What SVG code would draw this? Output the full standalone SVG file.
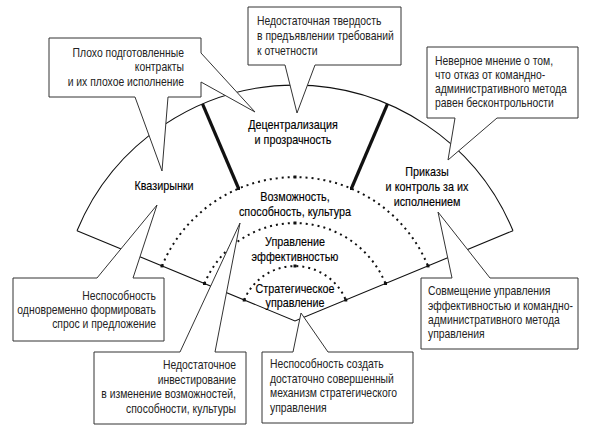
<svg xmlns="http://www.w3.org/2000/svg" width="591" height="433" viewBox="0 0 591 433">
<defs>
<style>
.ln{fill:none;stroke:#111;stroke-width:1.1}
.thick{fill:none;stroke:#111;stroke-width:3.2}
.dot{fill:none;stroke:#111;stroke-width:2;stroke-dasharray:2 4}
.sq{fill:#111}
.bub{fill:#fff;stroke:#333;stroke-width:1}
.t{font-family:'Liberation Sans',Arial,sans-serif;font-size:12px;fill:#222}
.f{font-family:'Liberation Sans',Arial,sans-serif;font-size:13px;fill:#000;text-anchor:middle;stroke:#000;stroke-width:0.15}
.e{text-anchor:end}
</style>
</defs>
<rect width="591" height="433" fill="#fff"/>
<g id="fan">
<path class="ln" d="M77,230.7 A236,236 0 0 1 513,230.7"/>
<path class="ln" d="M77,230.7 L295,321 L513,230.7"/>
<path class="dot" d="M162,265.9 A144,144 0 0 1 428,265.9"/>
<path class="dot" d="M204.5,283.5 A98,98 0 0 1 385.5,283.5"/>
<path class="dot" d="M244.2,300 A55,55 0 0 1 345.8,300"/>
<g class="sq">
<rect x="160.5" y="264.4" width="3" height="3"/>
<rect x="426.5" y="264.4" width="3" height="3"/>
<rect x="293.5" y="175.5" width="3" height="3"/>
<rect x="203" y="282" width="3" height="3"/>
<rect x="384" y="282" width="3" height="3"/>
<rect x="293.5" y="221.5" width="3" height="3"/>
<rect x="242.7" y="298.5" width="3" height="3"/>
<rect x="344.3" y="298.5" width="3" height="3"/>
<rect x="293.5" y="264.5" width="3" height="3"/>
<rect x="237" y="187" width="3" height="3"/>
<rect x="350" y="187" width="3" height="3"/>
</g>
</g>
<g id="connectors">
<line class="thick" x1="202.5" y1="103.9" x2="238.6" y2="188.5"/>
<line class="thick" x1="387.5" y1="103.9" x2="351.4" y2="188.5"/>
</g>
<g id="fan-labels">
<g id="quasi" transform="translate(164,0) scale(0.83,1)"><text class="f" x="0" y="190">Квазирынки</text></g>
<g id="decentral" transform="translate(293,0) scale(0.83,1)"><text class="f" x="0" y="129">Децентрализация</text><text class="f" x="0" y="144">и прозрачность</text></g>
<g id="orders" transform="translate(427,0) scale(0.83,1)"><text class="f" x="0" y="176">Приказы</text><text class="f" x="0" y="191">и контроль за их</text><text class="f" x="0" y="206">исполнением</text></g>
<g id="capability" transform="translate(295,0) scale(0.83,1)"><text class="f" x="0" y="201">Возможность,</text><text class="f" x="0" y="216">способность, культура</text></g>
<g id="performance" transform="translate(295,0) scale(0.83,1)"><text class="f" x="0" y="246">Управление</text><text class="f" x="0" y="261">эффективностью</text></g>
<g id="strategic" transform="translate(295,0) scale(0.83,1)"><text class="f" x="0" y="293">Стратегическое</text><text class="f" x="0" y="307">управление</text></g>
</g>
<g id="callout-contracts">
<polygon class="bub" points="49,38 201,38 201,53 255,112 201,82 201,97 168,97 162,171 135,97 49,97"/>
<g transform="translate(184,0) scale(0.865,1)">
<text class="t e" x="0" y="57">Плохо подготовленные</text>
<text class="t e" x="0" y="71.5">контракты</text>
<text class="t e" x="0" y="86">и их плохое исполнение</text>
</g>
</g>
<g id="callout-firmness">
<polygon class="bub" points="248,7 401,7 401,65 315,65 297,113 285,65 248,65"/>
<g transform="translate(257,0) scale(0.865,1)">
<text class="t" x="0" y="25">Недостаточная твердость</text>
<text class="t" x="0" y="40">в предъявлении требований</text>
<text class="t" x="0" y="55">к отчетности</text>
</g>
</g>
<g id="callout-opinion">
<polygon class="bub" points="427,47 578,47 578,118 497,118 448,160 455,118 427,118"/>
<g transform="translate(435,0) scale(0.865,1)">
<text class="t" x="0" y="65">Неверное мнение о том,</text>
<text class="t" x="0" y="79">что отказ от командно-</text>
<text class="t" x="0" y="93">административного метода</text>
<text class="t" x="0" y="107">равен бесконтрольности</text>
</g>
</g>
<g id="callout-demand">
<polygon class="bub" points="13,278 97,278 157,205 133,278 164,278 164,341 13,341"/>
<g transform="translate(156,0) scale(0.865,1)">
<text class="t e" x="0" y="300">Неспособность</text>
<text class="t e" x="0" y="314">одновременно формировать</text>
<text class="t e" x="0" y="328">спрос и предложение</text>
</g>
</g>
<g id="callout-investment">
<polygon class="bub" points="94,352 180,352 240,223 215,352 246,352 246,424 94,424"/>
<g transform="translate(236,0) scale(0.865,1)">
<text class="t e" x="0" y="369">Недостаточное</text>
<text class="t e" x="0" y="384">инвестирование</text>
<text class="t e" x="0" y="398">в изменение возможностей,</text>
<text class="t e" x="0" y="413">способности, культуры</text>
</g>
</g>
<g id="callout-mechanism">
<polygon class="bub" points="262,352 293,352 301,313 328,352 413,352 413,423 262,423"/>
<g transform="translate(270,0) scale(0.865,1)">
<text class="t" x="0" y="368">Неспособность создать</text>
<text class="t" x="0" y="383">достаточно совершенный</text>
<text class="t" x="0" y="397">механизм стратегического</text>
<text class="t" x="0" y="412">управления</text>
</g>
</g>
<g id="callout-combination">
<polygon class="bub" points="421,278 452,278 438,212 490,278 578,278 578,349 421,349"/>
<g transform="translate(428,0) scale(0.865,1)">
<text class="t" x="0" y="295">Совмещение управления</text>
<text class="t" x="0" y="310">эффективностью и командно-</text>
<text class="t" x="0" y="324">административного метода</text>
<text class="t" x="0" y="338">управления</text>
</g>
</g>
</svg>
